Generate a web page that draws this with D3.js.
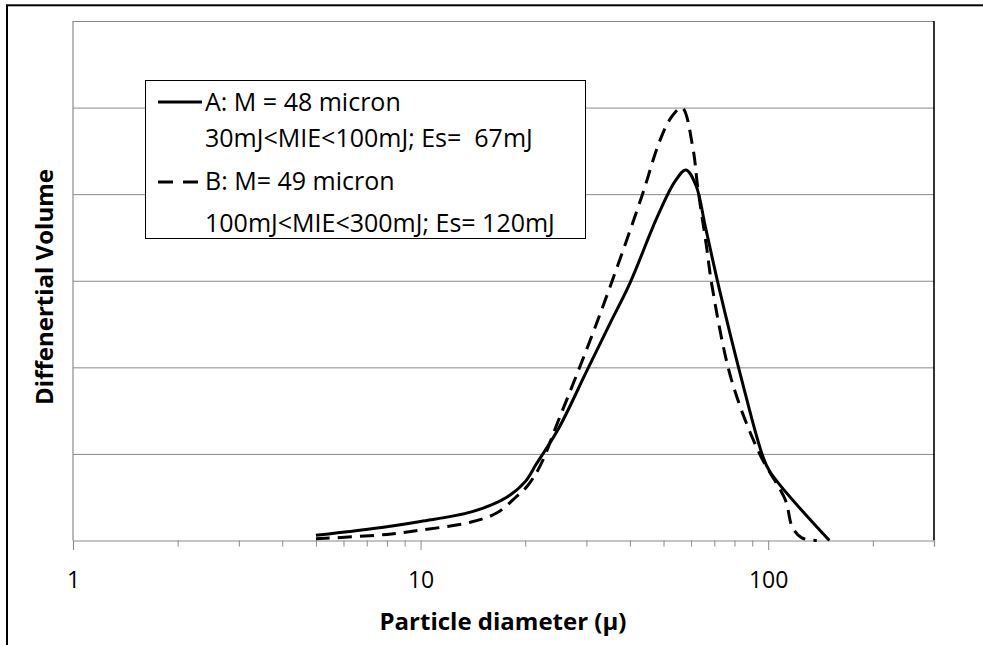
<!DOCTYPE html>
<html>
<head>
<meta charset="utf-8">
<script src="https://cdn.jsdelivr.net/npm/d3@7"></script>
<style>
  body { margin: 0; background: #fff; }
  text { font-family: "Open Sans", "Noto Sans", sans-serif; fill: #000; }
</style>
</head>
<body>
<svg id="chart" width="983" height="645"></svg>
<script>
// particle size distributions: [diameter (micron), differential volume]
const seriesA = [
  [5, 0.06], [8, 0.16], [10, 0.22], [14, 0.33], [17.7, 0.5], [20, 0.68], [21.5, 0.88],
  [25, 1.3], [30, 1.95], [35, 2.5], [40, 2.97], [48, 3.74], [54, 4.15], [58, 4.28],
  [62, 4.1], [66, 3.62], [72.4, 2.9], [84, 1.85], [96, 1.0], [101, 0.8], [150, 0]
]
const seriesB = [
  [5, 0.02], [8, 0.07], [10, 0.12], [13.9, 0.21], [16.6, 0.32], [18.9, 0.51], [20.2, 0.62],
  [22, 0.85], [25, 1.4], [30, 2.2], [35.6, 3.0], [43.5, 4.0], [48.6, 4.6], [52.5, 4.88],
  [56.5, 5.0], [60.7, 4.54], [62.7, 4.08], [66.5, 3.39], [69, 2.93], [78.5, 1.85], [94.5, 1.0],
  [112, 0.47], [117.5, 0.15], [125, 0.03], [138, 0]
]
const majorTicks = [1, 10, 100]
const minorTicks = [2, 3, 4, 5, 6, 7, 8, 9, 20, 30, 40, 50, 60, 70, 80, 90, 200, 300]
const gridValues = [1, 2, 3, 4, 5, 6]
const legendLines = [
  {dash: null, lines: ['A: M = 48 micron', '30mJ<MIE<100mJ; Es=  67mJ']},
  {dash: '15,10', lines: ['B: M= 49 micron', '100mJ<MIE<300mJ; Es= 120mJ']}
]

const svg = d3.select('#chart')
const m = {left: 73, top: 21, right: 934, bottom: 540.5}
const grey = '#8a8a8a'

// outer frame
svg.append('rect')
  .attr('x', 7).attr('y', 5.3).attr('width', 1000).attr('height', 700)
  .attr('fill', 'none').attr('stroke', '#000').attr('stroke-width', 2)

// scales
const x = d3.scaleLog().domain([1, 300]).range([m.left, m.right])
const y = d3.scaleLinear().domain([0, 6]).range([m.bottom, m.top])

// gridlines
const gridG = svg.append('g')
  .attr('transform', `translate(${m.left},0)`)
  .call(d3.axisLeft(y).tickValues(gridValues).tickSize(-(m.right - m.left)).tickFormat(''))
gridG.select('.domain').remove()
gridG.selectAll('line').attr('stroke', grey).attr('stroke-width', 1)

// left axis line (grey) and right border (black)
svg.append('line')
  .attr('x1', m.left).attr('x2', m.left).attr('y1', m.top).attr('y2', m.bottom)
  .attr('stroke', grey).attr('stroke-width', 1.2)
svg.append('line')
  .attr('x1', m.right).attr('x2', m.right).attr('y1', m.top).attr('y2', m.bottom)
  .attr('stroke', '#000').attr('stroke-width', 1.6)

// x axis
const axisX = d3.axisBottom(x)
  .tickValues(majorTicks.concat(minorTicks))
  .tickSize(6)
  .tickFormat(d => majorTicks.includes(d) ? d3.format('d')(d) : '')
const xG = svg.append('g')
  .attr('transform', `translate(0,${m.bottom})`)
  .call(axisX)
xG.select('.domain').attr('stroke', grey).attr('stroke-width', 1.2)
xG.selectAll('.tick line').attr('stroke', grey)
  .attr('y2', d => majorTicks.includes(d) ? 9.5 : 6)
xG.selectAll('.tick text')
  .attr('y', 47).attr('dy', 0)
  .style('font-size', '23px').style('font-family', '"Open Sans", sans-serif').attr('fill', '#000')

// curves
const line = d3.line()
  .x(d => x(d[0]))
  .y(d => y(d[1]))
  .curve(d3.curveCatmullRom.alpha(0.5))

svg.append('path').datum(seriesB)
  .attr('d', line).attr('fill', 'none').attr('stroke', '#000')
  .attr('stroke-width', 3).attr('stroke-dasharray', '14,8')
svg.append('path').datum(seriesA)
  .attr('d', line).attr('fill', 'none').attr('stroke', '#000')
  .attr('stroke-width', 3)

// legend
const legend = svg.append('g')
legend.append('rect')
  .attr('x', 145.5).attr('y', 80.5).attr('width', 440).attr('height', 158)
  .attr('fill', '#fff').attr('stroke', '#000').attr('stroke-width', 1)
const rowY = [[102, 111, 147], [182, 190, 232]]
legendLines.forEach((entry, i) => {
  legend.append('line')
    .attr('x1', 158).attr('x2', 202).attr('y1', rowY[i][0]).attr('y2', rowY[i][0])
    .attr('stroke', '#000').attr('stroke-width', 3)
    .attr('stroke-dasharray', entry.dash)
  entry.lines.forEach((t, j) => {
    legend.append('text')
      .attr('x', 205).attr('y', rowY[i][j + 1])
      .style('font-size', '25px').style('white-space', 'pre')
      .text(t)
  })
})

// axis titles
svg.append('text')
  .attr('x', 503).attr('y', 630).attr('text-anchor', 'middle')
  .style('font-size', '24px').style('font-weight', 'bold')
  .text('Particle diameter (\u03bc)')
svg.append('text')
  .attr('transform', 'translate(53,287) rotate(-90)').attr('text-anchor', 'middle')
  .style('font-size', '24px').style('font-weight', 'bold')
  .text('Diffenertial Volume')
</script>
</body>
</html>
